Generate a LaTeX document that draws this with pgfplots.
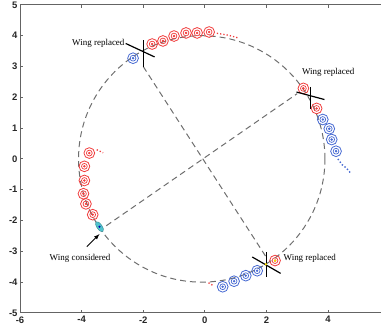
\documentclass[border=0pt]{standalone}
\usepackage{fontspec}
\setmainfont{Liberation Serif}
\newfontfamily\ticksf{Liberation Sans}
\usepackage{pgfplots}
\pgfplotsset{compat=1.18}
\definecolor{wred}{RGB}{240,60,60}
\definecolor{wblue}{RGB}{70,105,210}
\definecolor{wcyan}{RGB}{80,195,205}
\definecolor{axgray}{RGB}{100,100,100}
\definecolor{dashgray}{RGB}{110,110,110}
\pgfplotsset{
  ringA/.style={only marks, mark=o, mark size=5.4pt, mark options={draw=#1, line width=0.8pt}},
  ringB/.style={only marks, mark=o, mark size=2.9pt, mark options={draw=#1, line width=0.7pt}},
  ringC/.style={only marks, mark=*, mark size=1pt, mark options={draw=#1, fill=#1}},
}
\pgfplotstableread{
x y
-3.75 0.19
-3.91 -0.24
-3.91 -0.70
-3.94 -1.13
-3.86 -1.46
-3.64 -1.81
-1.71 3.73
-1.36 3.83
-1.00 3.99
-0.61 4.09
-0.25 4.09
0.14 4.12
3.20 2.29
3.63 1.64
2.28 -3.30
}\redtab
\pgfplotstableread{
x y
-2.33 3.27
3.83 1.28
4.04 0.98
4.12 0.63
4.26 0.25
0.58 -4.15
0.95 -3.97
1.33 -3.79
1.70 -3.63
}\bluetab
\begin{document}
\begin{tikzpicture}
\begin{axis}[
  x=30.75bp, y=30.75bp,
  xmin=-6, xmax=5.9, ymin=-5, ymax=5,
  xtick={-6,-4,-2,0,2,4}, ytick={-5,-4,-3,-2,-1,0,1,2,3,4,5},
  tick align=inside, major tick length=3pt,
  xtick pos=both, ytick pos=left,
  axis line style={axgray, line width=1pt},
  tick style={axgray, line width=0.9pt},
  tick label style={font=\ticksf\bfseries\fontsize{9.5}{10}\selectfont, text=black!85},
  yticklabel style={xshift=1pt},
  /pgf/number format/assume math mode=true,
  clip=false,
]
\coordinate (bl) at (axis cs:-6.65,-5.52);
\coordinate (tr) at (axis cs:5.72,5.16);
% dashed circle and diameters
\draw[dashgray, line width=1pt, dash pattern=on 6pt off 4pt] (axis cs:-0.1,0) circle[radius=4];
\addplot[dashgray, line width=1pt, dash pattern=on 6pt off 4pt] coordinates {(-2.0,3.0) (2.0,-3.2)};
\addplot[dashgray, line width=1pt, dash pattern=on 6pt off 4pt] coordinates {(-3.2,-2.17) (3.0,2.12)};
% trails
\addplot[wred, line width=1.3pt, dotted] coordinates {(0.39,4.08) (0.75,4.02) (1.08,3.93)};
\addplot[wred, line width=1.3pt, dotted] coordinates {(-3.51,0.30) (-3.3,0.20)};
\addplot[wred, line width=1.3pt, dotted] coordinates {(0.12,-4.02) (0.28,-4.12)};
\addplot[wblue, line width=1.4pt, dotted] coordinates {(4.32,0.0) (4.45,-0.18) (4.6,-0.3) (4.75,-0.48)};
% rings
\addplot[ringA=wred] table {\redtab};
\addplot[ringB=wred] table {\redtab};
\addplot[ringC=wred] table {\redtab};
\addplot[ringA=wblue] table {\bluetab};
\addplot[ringB=wblue] table {\bluetab};
\addplot[ringC=wblue] table {\bluetab};
% wing considered
\addplot[only marks, mark=*, mark size=2.6pt, mark options={draw=wcyan!70!black, fill=wcyan, rotate=-55, xscale=2.3}] coordinates {(-3.42,-2.2)};
\addplot[only marks, mark=*, mark size=0.8pt, mark options={fill=blue!70!black, draw=blue!70!black}] coordinates {(-3.42,-2.2)};
% crosses
\addplot[only marks, mark=|, mark size=13.5pt, mark options={black, line width=1.2pt}] coordinates {(-2.0,3.42)};
\addplot[only marks, mark=-, mark size=16pt, mark options={black, line width=1.2pt, rotate=-25}] coordinates {(-2.1,3.53)};
\addplot[only marks, mark=|, mark size=11pt, mark options={black, line width=1.2pt}] coordinates {(3.43,1.98)};
\addplot[only marks, mark=-, mark size=14.5pt, mark options={black, line width=1.2pt, rotate=-15}] coordinates {(3.43,2.05)};
\addplot[only marks, mark=|, mark size=12.5pt, mark options={black, line width=1.2pt}] coordinates {(1.99,-3.44)};
\addplot[only marks, mark=-, mark size=16.4pt, mark options={black, line width=1.2pt, rotate=-30}] coordinates {(2.0,-3.45)};
\addplot[only marks, mark=*, mark size=1pt, mark options={fill=yellow!80!orange, draw=yellow!80!orange}] coordinates {(1.98,-3.42) (2.28,-3.30)};
% labels
\node[anchor=east, font=\fontsize{9}{10}\selectfont, inner sep=1pt] at (axis cs:-2.57,3.76) {Wing replaced};
\node[anchor=west, font=\fontsize{9}{10}\selectfont, inner sep=1pt] at (axis cs:3.12,2.8) {Wing replaced};
\node[anchor=west, font=\fontsize{9}{10}\selectfont, inner sep=1pt] at (axis cs:2.52,-3.22) {Wing replaced};
\node[font=\fontsize{9}{10}\selectfont, inner sep=1pt] at (axis cs:-4.05,-3.23) {Wing considered};
\draw[-latex, black, line width=0.9pt] (axis cs:-3.83,-2.85) -- (axis cs:-3.42,-2.44);
\end{axis}
\pgfresetboundingbox
\path[use as bounding box] (bl) rectangle (tr);
\end{tikzpicture}
\end{document}
